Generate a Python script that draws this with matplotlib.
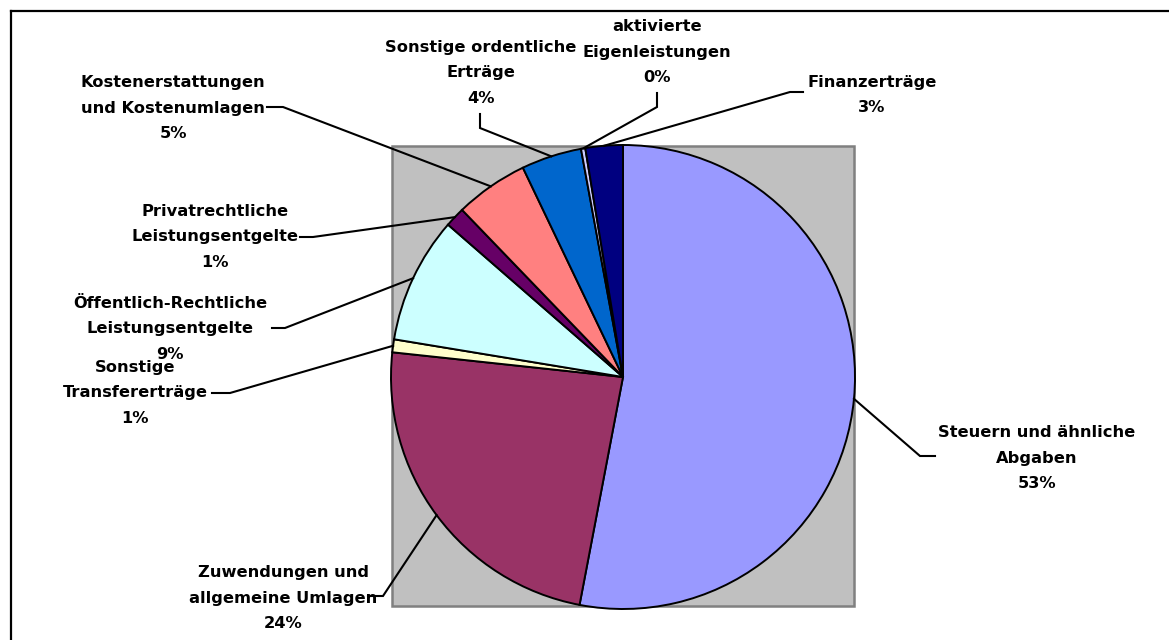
import numpy as np
import matplotlib.pyplot as plt
from matplotlib.patches import Rectangle

categories = ['Steuern und ähnliche\nAbgaben',
              'Zuwendungen und\nallgemeine Umlagen',
              'Sonstige\nTransfererträge',
              'Öffentlich-Rechtliche\nLeistungsentgelte',
              'Privatrechtliche\nLeistungsentgelte',
              'Kostenerstattungen\nund Kostenumlagen',
              'Sonstige ordentliche\nErträge',
              'aktivierte\nEigenleistungen',
              'Finanzerträge']
values = [53.0, 23.7, 0.9, 8.8, 1.4, 5.1, 4.2, 0.3, 2.6]
colors = ['#9999FF', '#993366', '#FFFFCC', '#CCFFFF', '#660066',
          '#FF8080', '#0066CC', '#CCCCFF', '#000080']

# label layout in pixels: text centre, elbow point, end point of leader
text_pos = [(1037, 458), (283, 598), (135, 393), (170, 329), (215, 237),
            (173, 108), (481, 73), (657, 52), (872, 95)]
elbow = [(920, 456), (383, 596), (230, 393), (285, 328), (313, 237),
         (283, 107), (480, 128), (657, 107), (790, 92)]
end = [(935, 456), (368, 596), (212, 393), (272, 328), (300, 237),
       (267, 107), (480, 114), (657, 93), (803, 92)]

W, H = 1169, 640
fig = plt.figure(figsize=(W / 100, H / 100), dpi=100)
fig.patch.set_facecolor('white')
fig.patch.set_edgecolor('white')
ax = fig.add_axes([0, 0, 1, 1])

cx, cy, r = 623, 377, 232

# plot area
ax.add_patch(Rectangle((392, 146), 462, 460, facecolor='#C0C0C0',
                       edgecolor='#808080', linewidth=1.8, zorder=0))

wedges, _ = ax.pie(values, colors=colors, startangle=-90, counterclock=True,
                   center=(cx, cy), radius=r, frame=False,
                   wedgeprops=dict(edgecolor='black', linewidth=1.4))

for i, w in enumerate(wedges):
    mid = np.deg2rad((w.theta1 + w.theta2) / 2)
    sx, sy = cx + r * np.cos(mid), cy + r * np.sin(mid)
    ex, ey = elbow[i]
    tx, ty = end[i]
    ax.plot([sx, ex, tx], [sy, ey, ty], color='black', linewidth=1.5,
            solid_joinstyle='miter', zorder=5)
    label = categories[i] + '\n' + '{:.0f}%'.format(values[i])
    ax.text(text_pos[i][0], text_pos[i][1], label, ha='center', va='center',
            fontsize=11.7, fontweight='bold', family='DejaVu Sans',
            linespacing=1.84, multialignment='center')

# chart border (only top and left visible)
ax.plot([11, W + 5], [11, 11], color='black', linewidth=1.6)
ax.plot([11, 11], [11, H + 5], color='black', linewidth=1.6)

ax.set_xlim(0, W)
ax.set_ylim(H, 0)
ax.set_aspect('equal')
ax.axis('off')

fig.savefig('out.png', dpi=100, facecolor='white', edgecolor='white')
